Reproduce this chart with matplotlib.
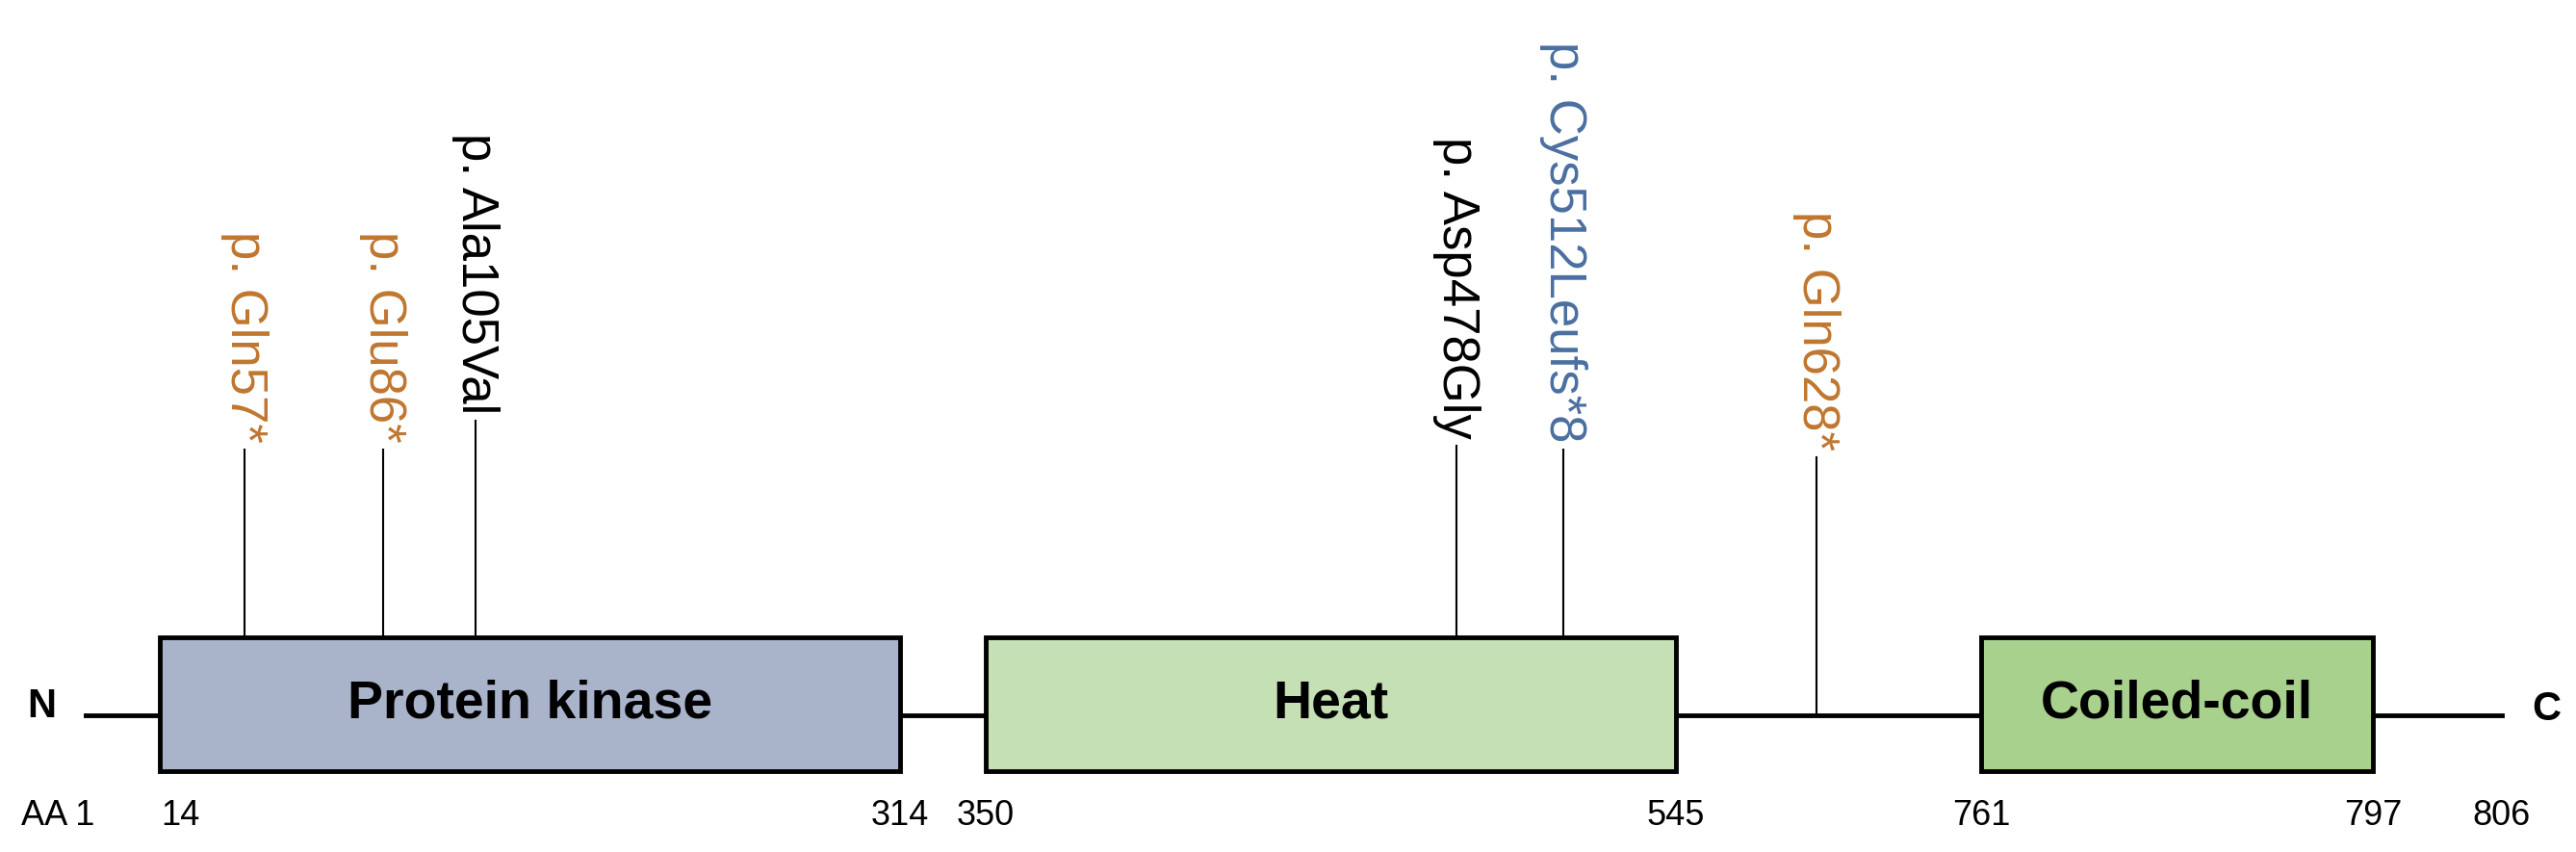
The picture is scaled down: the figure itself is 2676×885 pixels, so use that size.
import numpy as np
import matplotlib.pyplot as plt
import matplotlib.patches as mp

plt.rcParams['font.family'] = ['Liberation Sans', 'DejaVu Sans']

# data
anchor_aa = [1, 14, 57, 86, 105, 314, 350, 478, 512, 545, 628, 761, 797, 806]
anchor_x = [52, 97, 148, 232, 288, 545, 597, 882, 947, 1015, 1100, 1200, 1437, 1515]
tick_aa = [1, 14, 314, 350, 545, 761, 797, 806]
tick_labels = ["AA 1", "14", "314", "350", "545", "761", "797", "806"]
domains = ["Protein kinase", "Heat", "Coiled-coil"]
dom_start = [14, 350, 761]
dom_end = [314, 545, 797]
dom_colors = ["#A9B4CB", "#C5E0B4", "#A9D18E"]
mut_labels = ["p. Gln57*", "p. Glu86*", "p. Ala105Val", "p. Asp478Gly", "p. Cys512Leufs*8", "p. Gln628*"]
mut_pos = [57, 86, 105, 478, 512, 628]
mut_colors = ["#C0762F", "#C0762F", "#000000", "#000000", "#4A6FA0", "#C0762F"]
stem_top = [272, 272, 255, 270, 272, 277]

def X(aa):
    return np.interp(aa, anchor_aa, anchor_x)

fig = plt.figure(figsize=(26.76, 8.85), dpi=100)
ax = fig.add_axes([0, 0, 1, 1])
ax.set_xlim(0, 1560); ax.set_ylim(516, 0); ax.axis('off')
ly, btop, bbot = 433, 386, 467
ax.plot([X(1), X(806)], [ly, ly], color='black', lw=3.5, zorder=1)
for n, s, e, c in zip(domains, dom_start, dom_end, dom_colors):
    ax.add_patch(mp.Rectangle((X(s), btop), X(e)-X(s), bbot-btop, facecolor=c, edgecolor='black', lw=3.5, zorder=2))
    ax.text((X(s)+X(e))/2, (btop+bbot)/2, n, ha='center', va='center', fontsize=40, fontweight='bold', zorder=3)
ax.text(25, ly - 5, "N", ha='center', va='center', fontsize=30, fontweight='bold')
ax.text(1542, ly - 3, "C", ha='center', va='center', fontsize=30, fontweight='bold')
for a, t in zip(tick_aa, tick_labels):
    xx = X(a)
    if a == 1:
        xx = 35
    elif a in (14,):
        xx += 12
    ax.text(xx, 494, t, ha='center', va='center', fontsize=26)
for lab, p, c, st in zip(mut_labels, mut_pos, mut_colors, stem_top):
    x = X(p)
    y0 = btop if p < 545 else ly
    ax.plot([x, x], [y0, st], color='black', lw=1.5, zorder=1)
    ax.text(x, st - 4, lab, rotation=270, ha='center', va='bottom', fontsize=38, color=c)
fig.savefig("out.png", dpi=100)
